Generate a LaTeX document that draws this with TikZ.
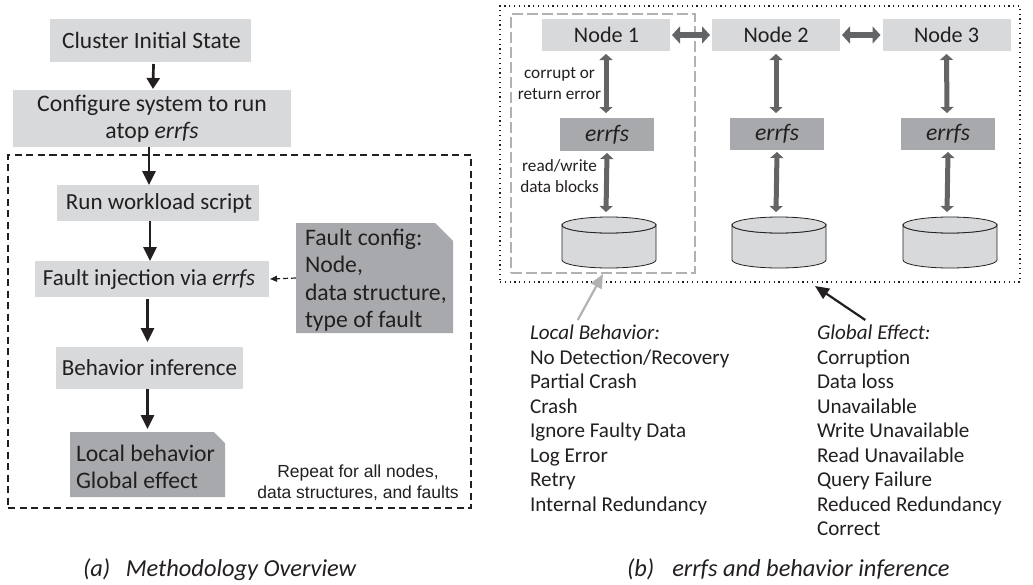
\documentclass[tikz,border=0pt]{standalone}
\usepackage{fontspec}
\setmainfont{Carlito}
\newfontfamily\helv{Liberation Sans}
\usetikzlibrary{arrows.meta,calc}
\definecolor{ink}{HTML}{231F20}
\definecolor{lightbox}{HTML}{D8D9DB}
\definecolor{darkbox}{HTML}{A7A9AC}
\definecolor{dblarrow}{HTML}{636466}
\definecolor{dashgrey}{HTML}{B0B2B4}
\newcommand{\bigf}{\fontsize{23.7}{27.5}\selectfont}
\newcommand{\narrowf}{\fontsize{23}{27.5}\selectfont}
\newcommand{\nodef}{\fontsize{22.2}{27.5}\selectfont}
\newcommand{\listf}{\fontsize{21.1}{24.5}\selectfont}
\newcommand{\smallf}{\fontsize{17.2}{21}\selectfont}
\newcommand{\drumat}[1]{%
  \draw[drumline] ([yshift=-8pt]#1.north west) arc[start angle=180,end angle=360,x radius=47pt,y radius=8pt]
    -- ([yshift=8pt]#1.south east) arc[start angle=0,end angle=-180,x radius=47pt,y radius=8pt] -- cycle;
  \draw[drumline] ([yshift=-8pt]#1.north west) arc[start angle=180,end angle=-180,x radius=47pt,y radius=8pt];
}
\tikzset{
 x=1pt,y=-1pt,
 every node/.style={text=ink,inner sep=0pt,outer sep=0pt},
 lightnode/.style={fill=lightbox,font=\bigf,align=center,anchor=center},
 errbox/.style={fill=darkbox,font=\bigf\itshape,minimum width=94pt},
 nodebox/.style={fill=lightbox,font=\nodef,minimum width=128pt,minimum height=32pt},
 flow/.style={ink,line width=2.7pt,-{Triangle[length=14pt,width=13pt]}},
 flowshort/.style={ink,line width=2.7pt,-{Triangle[length=11pt,width=13pt]}},
 dbl/.style={dblarrow,line width=5pt,{Triangle[length=6pt,width=13pt]}-{Triangle[length=6pt,width=13pt]}},
 dblh/.style={dblarrow,line width=6pt,{Triangle[length=8pt,width=17pt]}-{Triangle[length=8pt,width=17pt]}},
 drum/.style={minimum width=94pt,minimum height=51pt},
 drumline/.style={draw=ink,line width=0.8pt,fill=lightbox},
 lbl/.style={font=\smallf,align=center},
 listing/.style={font=\listf,align=left,anchor=north west},
 captext/.style={font=\fontsize{24.4}{26}\selectfont\itshape,anchor=base west},
}
\begin{document}
\begin{tikzpicture}
\useasboundingbox (0,0) rectangle (1033,584);
% left
\node[lightnode,minimum width=201pt,minimum height=43pt] (cis) at (150.5,40.5) {\hspace{2pt}\fontsize{23.4}{27.5}\selectfont Cluster Initial State};
\node[lightnode,minimum width=278pt,minimum height=57pt] (cfg) at (152,118.5) {Configure system to run\\atop \textit{errfs}};
\node[draw=ink,line width=1.4pt,dash pattern=on 7pt off 4.5pt,minimum width=463pt,minimum height=353pt] (loop) at (239.5,331.5) {};
\node[lightnode,minimum width=202pt,minimum height=36pt,font=\narrowf] (run) at (158,203) {\hspace{2pt}Run workload script};
\node[lightnode,minimum width=234pt,minimum height=36pt,font=\narrowf] (inj) at (152,279) {\hspace{-6pt}Fault injection via \textit{errfs}};
\node[lightnode,minimum width=187pt,minimum height=42pt,font=\narrowf] (beh) at (149.5,368) {Behavior inference};
\node[minimum width=157pt,minimum height=110pt] (fc) at (374.5,278) {};
\fill[darkbox] (296,223) -- (435,223) -- (453,241) -- (453,333) -- (296,333) -- cycle;
\node[font=\bigf,align=left,anchor=north west] (fct) at (305,229) {Fault config:\\Node,\\data structure,\\type of fault};
\node[minimum width=155pt,minimum height=65pt] (res) at (147.5,464.5) {};
\fill[darkbox] (70,432) -- (214,432) -- (225,443) -- (225,497) -- (70,497) -- cycle;
\node[font=\bigf,align=left,anchor=north west] (rest) at (76,445) {Local behavior\\Global effect};
\node[font=\helv\fontsize{17.5}{20.5}\selectfont,align=center] (rep) at (358,483) {Repeat for all nodes,\\data structures, and faults};
\draw[flowshort] ([xshift=3pt,yshift=-2pt]cis.south) -- ([xshift=1pt,yshift=1pt]cfg.north);
\draw[flow] ([xshift=-3pt]cfg.south) -- ([xshift=-9pt]run.north);
\draw[flow] ([xshift=-8pt]run.south) -- ([xshift=-2pt]inj.north);
\draw[flow] ([xshift=-4.5pt,yshift=-2pt]inj.south) -- ([xshift=-2pt,yshift=5pt]beh.north);
\draw[flow] ([xshift=-2pt]beh.south) -- ([yshift=3pt]res.north);
\draw[ink,line width=1.2pt,dash pattern=on 5pt off 3pt,-{Triangle[length=7pt,width=6pt]}] (fc.west) -- ([xshift=1pt]inj.east);
\node[captext] (capa) at (83,576) {(a)\hspace{15.5pt}Methodology Overview};
% right
\node[draw=ink,line width=1.2pt,dash pattern=on 1.2pt off 3.6pt,minimum width=520pt,minimum height=276pt] (outer) at (760,144) {};
\node[draw=dashgrey,line width=1.3pt,dash pattern=on 11pt off 4pt,minimum width=184pt,minimum height=259pt] (local) at (603,143.5) {};
\node[nodebox] (n1) at (606,35) {\hspace{1pt}Node 1};
\node[nodebox] (n2) at (776,35) {Node 2};
\node[nodebox] (n3) at (946.5,35) {Node 3};
\node[errbox,minimum height=33pt] (e1) at (607,134.5) {errfs};
\node[errbox,minimum height=32pt] (e2) at (777,134) {errfs};
\node[errbox,minimum height=32pt] (e3) at (948,134) {errfs};
\node[drum] (d1) at (609,242.5) {};
\node[drum] (d2) at (779,242.5) {};
\node[drum] (d3) at (950,242.5) {};
\drumat{d1}\drumat{d2}\drumat{d3}
\draw[dblh] ([xshift=2pt]n1.east) -- ([xshift=-2pt]n2.west);
\draw[dblh] ([xshift=2pt]n2.east) -- ([xshift=-2pt]n3.west);
\draw[dbl] ([yshift=-3pt]n1.south) -- ([xshift=-1pt,yshift=5pt]e1.north);
\draw[dbl] ([yshift=-3pt]n2.south) -- ([xshift=-1pt,yshift=5pt]e2.north);
\draw[dbl] ([yshift=-3pt]n3.south) -- ([xshift=-1pt,yshift=5pt]e3.north);
\draw[dbl] ([yshift=-2pt]e1.south) -- ([xshift=-3pt,yshift=5pt]d1.north);
\draw[dbl] ([yshift=-2pt]e2.south) -- ([xshift=-3pt,yshift=5pt]d2.north);
\draw[dbl] ([yshift=-2pt]e3.south) -- ([xshift=-3pt,yshift=5pt]d3.north);
\node[lbl] (l1) at (559.5,84) {corrupt or\\return error};
\node[lbl] (l2) at (559.5,176) {read/write\\data blocks};
\node[listing] (lb) at (530,325) {\textit{Local Behavior:}\\No Detection/Recovery\\Partial Crash\\Crash\\Ignore Faulty Data\\Log Error\\Retry\\Internal Redundancy};
\node[listing] (ge) at (817,325) {\textit{Global Effect:}\\Corruption\\Data loss\\Unavailable\\Write Unavailable\\Read Unavailable\\Query Failure\\Reduced Redundancy\\Correct};
\draw[dashgrey,line width=2.2pt,-{Triangle[length=14pt,width=12pt]}] ([xshift=-52pt,yshift=5pt]lb.north) -- ([yshift=-1pt]local.south);
\draw[ink,line width=2.2pt,-{Triangle[length=14pt,width=12pt]}] ([xshift=-44pt,yshift=5pt]ge.north) -- ([xshift=55pt,yshift=-4pt]outer.south);
\node[captext] (capb) at (627,576) {(b)\hspace{18pt}errfs and behavior inference};
\end{tikzpicture}
\end{document}
